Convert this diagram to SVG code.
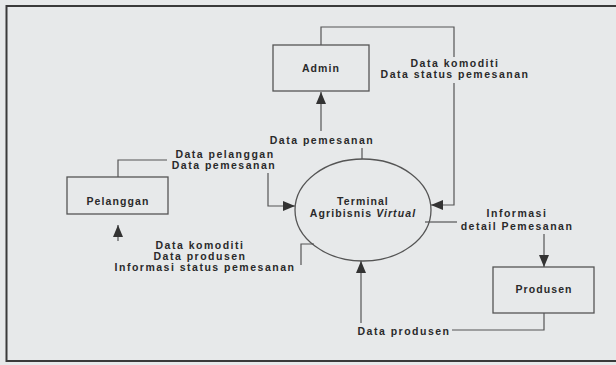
<svg xmlns="http://www.w3.org/2000/svg" width="616" height="365" viewBox="0 0 616 365">
<defs>
<style>
.bg{fill:#e7e9ea}
.frame{fill:none;stroke:#3a3a3a;stroke-width:2}
.box{fill:none;stroke:#555;stroke-width:1.3}
.ln{fill:none;stroke:#555;stroke-width:1.2}
.t{font-family:"Liberation Sans",Arial,sans-serif;font-weight:bold;font-size:10.5px;letter-spacing:1.5px;fill:#2a2a2a;text-anchor:middle}
.n{letter-spacing:1.1px}
</style>
<marker id="ah" viewBox="0 0 12 10" refX="12" refY="5" markerWidth="12" markerHeight="10" orient="auto" markerUnits="userSpaceOnUse">
<path d="M0,0 L12,5 L0,10 z" fill="#333"/>
</marker>
</defs>
<rect class="bg" x="0" y="0" width="616" height="365"/>
<path class="frame" d="M616,6 H6.5 V361 H616"/>

<g id="admin">
<rect class="box" x="273" y="45" width="96" height="46"/>
<text class="t n" x="321" y="72">Admin</text>
</g>
<g id="pelanggan">
<rect class="box" x="67" y="177" width="101" height="37"/>
<text class="t n" x="118" y="205">Pelanggan</text>
</g>
<g id="terminal">
<ellipse class="box" cx="363" cy="210" rx="68" ry="51"/>
<text class="t n" x="363" y="205">Terminal</text>
<text class="t n" x="363" y="217">Agribisnis <tspan font-style="italic">Virtual</tspan></text>
</g>
<g id="produsen">
<rect class="box" x="493" y="267" width="101" height="46"/>
<text class="t n" x="544" y="293">Produsen</text>
</g>

<g id="connectors">
<path class="ln" d="M321,45 V27 H454 V57"/>
<path class="ln" d="M454,83 V205 H431" marker-end="url(#ah)"/>
<text class="t" x="455" y="66.5">Data komoditi</text>
<text class="t" x="455" y="77.5">Data status pemesanan</text>

<path class="ln" d="M362,159 V148"/>
<path class="ln" d="M321,131 V92" marker-end="url(#ah)"/>
<text class="t" x="322" y="144">Data pemesanan</text>

<path class="ln" d="M118,177 V160 H167"/>
<path class="ln" d="M268,173 V206 H295" marker-end="url(#ah)"/>
<text class="t" x="225" y="158">Data pelanggan</text>
<text class="t" x="224" y="169">Data pemesanan</text>

<path class="ln" d="M301,265 V244 H314"/>
<path class="ln" d="M118,241 V225" marker-end="url(#ah)"/>
<text class="t" x="200" y="249">Data komoditi</text>
<text class="t" x="200" y="260">Data produsen</text>
<text class="t" x="205" y="271">Informasi status pemesanan</text>

<path class="ln" d="M425,222 H457"/>
<path class="ln" d="M544,234 V267" marker-end="url(#ah)"/>
<text class="t" x="517" y="217">Informasi</text>
<text class="t" x="517" y="230">detail Pemesanan</text>

<path class="ln" d="M544,313 V330 H452"/>
<path class="ln" d="M361,323 V261" marker-end="url(#ah)"/>
<text class="t" x="404" y="334.5">Data produsen</text>
</g>
</svg>
